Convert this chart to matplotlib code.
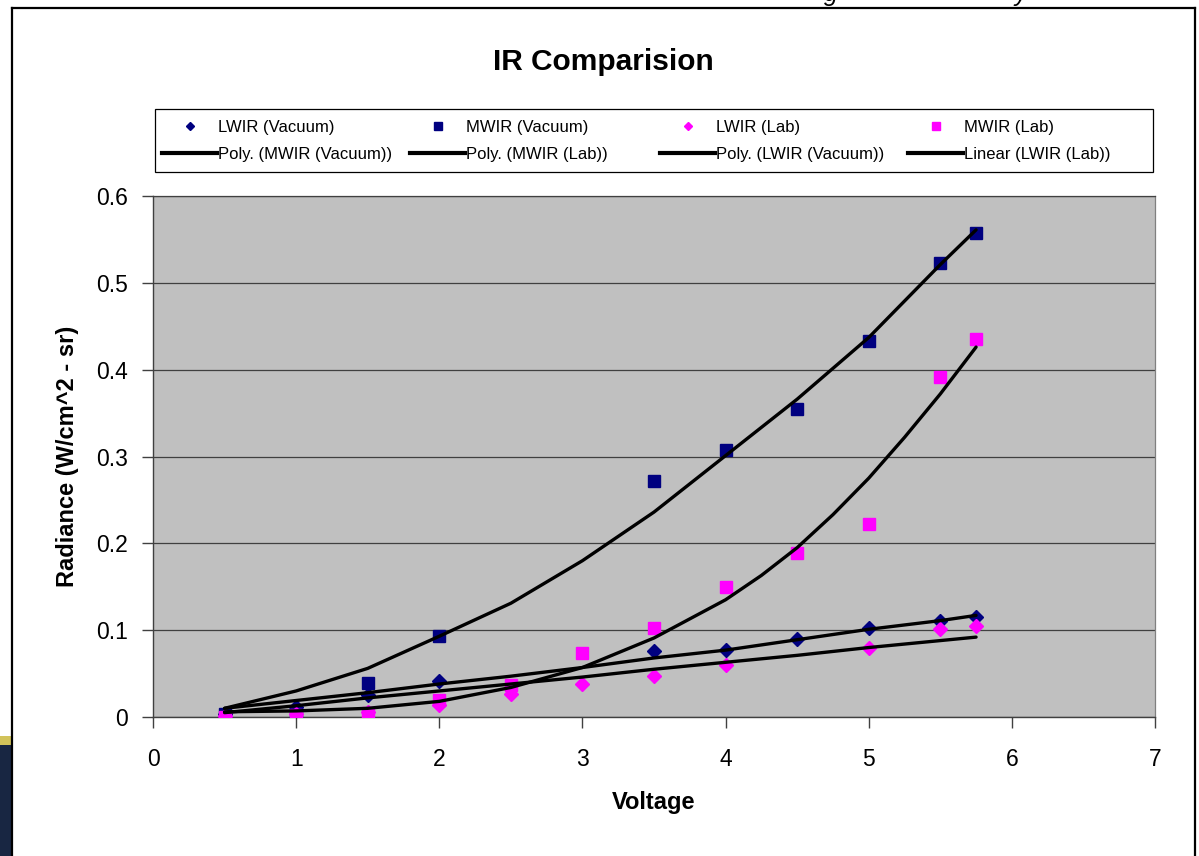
import numpy as np
import matplotlib
matplotlib.use("Agg")
import matplotlib.pyplot as plt
from matplotlib.lines import Line2D
from matplotlib.patches import Rectangle

plt.rcParams['font.family'] = ['Liberation Sans', 'DejaVu Sans']

# ---------------- data ----------------
x_vac = [0.5, 1.0, 1.5, 2.0, 3.5, 4.0, 4.5, 5.0, 5.5, 5.75]
lwir_vac = [0.003, 0.012, 0.025, 0.042, 0.076, 0.077, 0.090, 0.102, 0.111, 0.115]
mwir_vac = [0.003, 0.004, 0.039, 0.093, 0.272, 0.307, 0.355, 0.433, 0.523, 0.557]

x_lwir_lab = [0.5, 1.0, 1.5, 2.0, 2.5, 3.0, 3.5, 4.0, 5.0, 5.5, 5.75]
lwir_lab = [0.001, 0.004, 0.006, 0.014, 0.027, 0.038, 0.047, 0.060, 0.079, 0.101, 0.105]

x_mwir_lab = [0.5, 1.0, 1.5, 2.0, 2.5, 3.0, 3.5, 4.0, 4.5, 5.0, 5.5, 5.75]
mwir_lab = [0.000, 0.002, 0.005, 0.020, 0.037, 0.074, 0.103, 0.150, 0.189, 0.222, 0.392, 0.435]

# trendlines as drawn in the chart
trend_x = [0.5, 1.0, 1.5, 2.0, 2.5, 3.0, 3.5, 4.0, 4.5, 5.0, 5.5, 5.75]
trend_poly_mwir_vac = [0.010, 0.030, 0.056, 0.093, 0.131, 0.180, 0.236, 0.301, 0.366, 0.437, 0.521, 0.561]
trend_poly_lwir_vac = [0.010, 0.019, 0.028, 0.038, 0.047, 0.057, 0.068, 0.077, 0.089, 0.101, 0.111, 0.117]
trend_lin_lwir_lab = [0.005, 0.013, 0.022, 0.030, 0.038, 0.046, 0.055, 0.063, 0.071, 0.080, 0.088, 0.092]
trend_x_mwir_lab = [0.5, 1.0, 1.5, 2.0, 2.5, 3.0, 3.5, 4.0, 4.25, 4.5, 4.75, 5.0, 5.25, 5.5, 5.75]
trend_poly_mwir_lab = [0.006, 0.007, 0.010, 0.018, 0.034, 0.057, 0.091, 0.135, 0.163, 0.195, 0.233, 0.275, 0.322, 0.372, 0.426]

x_ticks = [0, 1, 2, 3, 4, 5, 6, 7]
y_ticks = [0, 0.1, 0.2, 0.3, 0.4, 0.5, 0.6]
y_tick_labels = ['0', '0.1', '0.2', '0.3', '0.4', '0.5', '0.6']

title = 'IR Comparision'
x_label = 'Voltage'
y_label = 'Radiance (W/cm^2 - sr)'

NAVY = '#000080'
MAGENTA = '#FF00FF'

# ---------------- figure ----------------
W, H = 1199, 856
fig = plt.figure(figsize=(W / 100, H / 100), dpi=100)
fig.patch.set_facecolor('white')

def fx(px):
    return px / W

def fy(py):
    return 1 - py / H

# slide fragments behind the chart
fig.patches.append(Rectangle((0, fy(856)), fx(12), fy(745) - fy(856), transform=fig.transFigure,
                             facecolor='#182642', edgecolor='none', zorder=0))
fig.patches.append(Rectangle((0, fy(745)), fx(12), fy(736) - fy(745), transform=fig.transFigure,
                             facecolor='#d2c35a', edgecolor='none', zorder=0))
fig.text(fx(831), fy(1.0), 'g', fontsize=18, style='italic', va='baseline', ha='center', color='black')
fig.text(fx(1021), fy(1.0), 'y', fontsize=18, style='italic', va='baseline', ha='center', color='black')

# chart frame
fig.lines.append(Line2D([fx(12), fx(12)], [0, fy(7.5)], transform=fig.transFigure, color='black', lw=1.6))
fig.lines.append(Line2D([fx(12), fx(1195)], [fy(7.5), fy(7.5)], transform=fig.transFigure, color='black', lw=1.6))
fig.lines.append(Line2D([fx(1195), fx(1195)], [0, fy(7.5)], transform=fig.transFigure, color='black', lw=1.6))

ax = fig.add_axes([fx(153), fy(717), fx(1155) - fx(153), fy(196) - fy(717)])
ax.set_facecolor('#C0C0C0')
ax.set_xlim(0, 7)
ax.set_ylim(0, 0.6)
ax.set_xticks(x_ticks)
ax.set_yticks(y_ticks)
ax.set_yticklabels(y_tick_labels)
ax.tick_params(axis='both', direction='out', length=8, width=1, color='#404040',
               labelsize=16.5, labelcolor='black')
ax.tick_params(axis='x', pad=14)
ax.tick_params(axis='y', pad=10)
ax.yaxis.grid(True, color='#404040', lw=0.9)
ax.set_axisbelow(True)
for s in ['left', 'bottom']:
    ax.spines[s].set_color('#404040')
    ax.spines[s].set_linewidth(1.0)
ax.spines['top'].set_color('#404040')
ax.spines['top'].set_linewidth(0.9)
ax.spines['right'].set_color('#808080')
ax.spines['right'].set_linewidth(0.9)

# scatter series
ax.plot(x_vac, lwir_vac, linestyle='none', marker='D', ms=6.8, color=NAVY, mec=NAVY, zorder=3)
ax.plot(x_vac, mwir_vac, linestyle='none', marker='s', ms=8.8, color=NAVY, mec=NAVY, zorder=3)
ax.plot(x_lwir_lab, lwir_lab, linestyle='none', marker='D', ms=6.8, color=MAGENTA, mec=MAGENTA, zorder=3)
ax.plot(x_mwir_lab, mwir_lab, linestyle='none', marker='s', ms=8.8, color=MAGENTA, mec=MAGENTA, zorder=3)

# trendlines
for xx, yy in [(trend_x, trend_poly_mwir_vac), (trend_x_mwir_lab, trend_poly_mwir_lab),
               (trend_x, trend_poly_lwir_vac), (trend_x, trend_lin_lwir_lab)]:
    ax.plot(xx, yy, color='black', lw=2.4, zorder=4, solid_capstyle='round', solid_joinstyle='round')

# titles / labels
fig.text(fx(603), fy(62), title, fontsize=21.5, fontweight='bold', ha='center', va='center')
fig.text(fx(654), fy(803), x_label, fontsize=17, fontweight='bold', ha='center', va='center')
fig.text(fx(68), fy(456), y_label, fontsize=17, fontweight='bold', ha='center', va='center', rotation=90)

# legend: frame + 4 equal-width columns
fig.patches.append(Rectangle((fx(155), fy(172)), fx(1153) - fx(155), fy(109) - fy(172),
                             transform=fig.transFigure, facecolor='white', edgecolor='black', lw=0.9, zorder=1))

def mk(marker, color, ms):
    return Line2D([], [], linestyle='none', marker=marker, color=color, mec=color, ms=ms)

blk = Line2D([], [], color='black', lw=3)
columns = [
    [(mk('D', NAVY, 4.4), 'LWIR (Vacuum)'), (blk, 'Poly. (MWIR (Vacuum))')],
    [(mk('s', NAVY, 5.2), 'MWIR (Vacuum)'), (blk, 'Poly. (MWIR (Lab))')],
    [(mk('D', MAGENTA, 4.4), 'LWIR (Lab)'), (blk, 'Poly. (LWIR (Vacuum))')],
    [(mk('s', MAGENTA, 5.2), 'MWIR (Lab)'), (blk, 'Linear (LWIR (Lab))')],
]
col_x = [162, 410, 660, 908]
for cx, col in zip(col_x, columns):
    leg = fig.legend([h for h, _ in col], [l for _, l in col], loc='upper left',
                     bbox_to_anchor=(fx(cx), fy(120)), bbox_transform=fig.transFigure,
                     frameon=False, fontsize=12, handlelength=3.3, handletextpad=0.05,
                     labelspacing=0.72, borderpad=0, borderaxespad=0)
    leg.set_zorder(2)

fig.savefig('out.png', dpi=100, facecolor='white')
